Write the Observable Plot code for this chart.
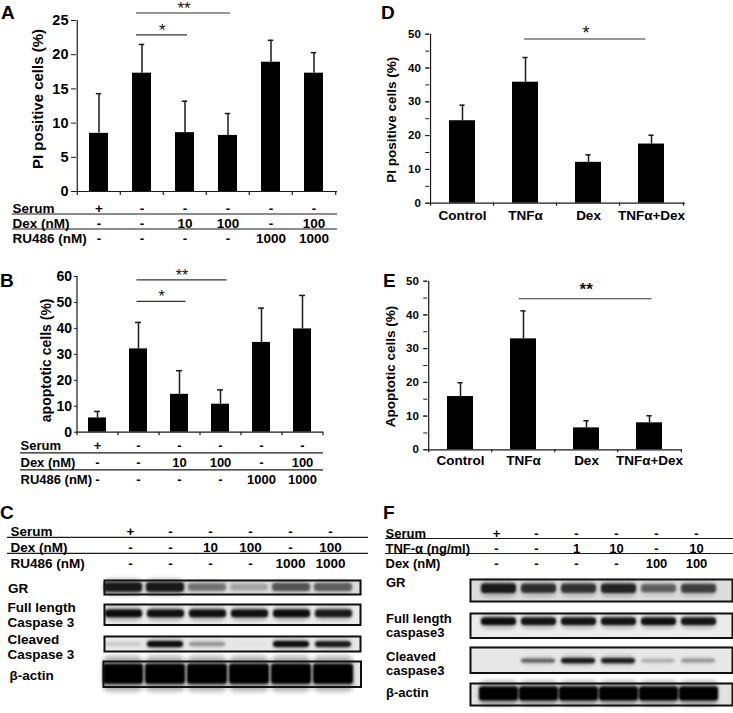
<!DOCTYPE html>
<html><head><meta charset="utf-8">
<script src="https://cdn.jsdelivr.net/npm/d3@7"></script>
<script src="https://cdn.jsdelivr.net/npm/@observablehq/plot@0.6"></script>
<style>
body{margin:0;background:#fff}
#fig{position:relative;width:733px;height:713px;overflow:hidden;background:#fff;font-family:"Liberation Sans",Arial,Helvetica,sans-serif}
#fig > *{position:absolute}
.letter{font-size:19px;line-height:19px;font-weight:bold;color:#000}
</style></head>
<body><div id="fig"></div>
<script>
// ---------------- DATA ----------------
const lanes = ["1","2","3","4","5","6"];
// condition table for panels A, B, C
const rowNamesABC = ["Serum", "Dex (nM)", "RU486 (nM)"];
const serumABC = ["+", "-", "-", "-", "-", "-"];
const dexABC = ["-", "-", "10", "100", "-", "100"];
const ru486ABC = ["-", "-", "-", "-", "1000", "1000"];
// condition table for panel F
const rowNamesF = ["Serum", "TNF-α (ng/ml)", "Dex (nM)"];
const serumF = ["+", "-", "-", "-", "-", "-"];
const tnfF = ["-", "-", "1", "10", "-", "10"];
const dexF = ["-", "-", "-", "-", "100", "100"];

// Panel A: PI positive cells (%)
const piA = [8.5, 17.3, 8.6, 8.2, 18.9, 17.3];
const piAErr = [5.8, 4.2, 4.6, 3.2, 3.2, 3.0];
const ticksA = [0, 5, 10, 15, 20, 25];
const sigA = [{from: "2", to: "3", label: "*", y: 22.9}, {from: "2", to: "4", label: "**", y: 26.1}];

// Panel B: apoptotic cells (%)
const apoB = [5.5, 32.1, 14.6, 10.8, 34.6, 39.8];
const apoBErr = [2.5, 10.2, 9.1, 5.5, 13.2, 12.9];
const ticksB = [0, 10, 20, 30, 40, 50, 60];
const sigB = [{from: "2", to: "3", label: "*", y: 50.4}, {from: "2", to: "4", label: "**", y: 58.7}];

// Panels D, E
const groupsDE = ["Control", "TNFα", "Dex", "TNFα+Dex"];
const piD = [24.4, 35.8, 12.1, 17.5];
const piDErr = [4.6, 7.3, 2.2, 2.6];
const sigD = [{from: "TNFα", to: "TNFα+Dex", label: "*", y: 48.6}];
const apoE = [15.8, 32.9, 6.5, 8.0];
const apoEErr = [4.1, 8.3, 2.1, 2.1];
const sigE = [{from: "TNFα", to: "TNFα+Dex", label: "**", y: 44.8}];
const ticksDE = [0, 10, 20, 30, 40, 50];
const minorTicksDE = [0, 5, 10, 15, 20, 25, 30, 35, 40, 45, 50];

// Western blots: band intensity per lane (0 = none, 1 = saturated)
const blotLabelsC = ["GR", "Full length\nCaspase 3", "Cleaved\nCaspase 3", "β-actin"];
const grC = [0.85, 0.85, 0.42, 0.2, 0.55, 0.5];
const fullC = [0.92, 0.9, 0.9, 0.9, 0.92, 0.85];
const cleavedC = [0.1, 0.92, 0.3, 0.02, 0.92, 0.85];
const actinC = [1, 1, 1, 1, 1, 1];
const blotLabelsF = ["GR", "Full length\ncaspase3", "Cleaved\ncaspase3", "β-actin"];
const grF = [0.85, 0.75, 0.72, 0.8, 0.5, 0.65];
const fullF = [0.92, 0.88, 0.88, 0.88, 0.9, 0.88];
const cleavedF = [0, 0.5, 0.85, 0.82, 0.2, 0.3];
const actinF = [1, 1, 1, 1, 1, 1];

const panelLetters = ["A", "B", "C", "D", "E", "F"];

// ---------------- RENDERING ----------------
const fig = document.getElementById("fig");
const FONT = "'Liberation Sans', Arial, Helvetica, sans-serif";
const baseStyle = {fontFamily: FONT, fontWeight: "bold", background: "transparent", overflow: "visible", color: "#000"};
const ink = "#1a1a1a";
function place(el, left, top) { el.style.position = "absolute"; el.style.left = left + "px"; el.style.top = top + "px"; fig.appendChild(el); return el; }

function barChart(o) {
  const n = o.cats.length;
  const step = (o.width - o.marginRight - o.marginLeft) / n;
  const bw = step * (1 - o.pad);
  const yMax = o.ticks[o.ticks.length - 1];
  const rows = o.cats.map((c, i) => ({cat: c, mean: o.means[i], top: o.means[i] + o.errs[i]}));
  const idx = c => o.cats.indexOf(c);
  const marks = [
    Plot.barY(rows, {x: "cat", y: "mean", fill: "#000"}),
    Plot.ruleX(rows, {x: "cat", y1: "mean", y2: "top", stroke: ink, strokeWidth: 1.5}),
    Plot.tickY(rows, {x: "cat", y: "top", stroke: ink, strokeWidth: 1.5, insetLeft: (bw - o.cap) / 2, insetRight: (bw - o.cap) / 2}),
    Plot.ruleY([0], {stroke: ink, strokeWidth: 1.2}),
    Plot.ruleX([o.cats[0]], {x: d => d, dx: -step / 2, y1: yMax, y2: 0, insetBottom: -o.xTick, stroke: ink, strokeWidth: 1.2}),
    Plot.ruleX(o.cats.slice(1), {x: d => d, dx: -step / 2, y1: 0, y2: 0, insetBottom: -o.xTick, stroke: ink, strokeWidth: 1.2}),
    Plot.ruleX([o.cats[n - 1]], {x: d => d, dx: step / 2, y1: 0, y2: 0, insetBottom: -o.xTick, stroke: ink, strokeWidth: 1.2}),
  ];
  if (o.minorTicks) marks.push(Plot.axisY(o.minorTicks, {tickSize: o.tickSize, tickFormat: () => "", label: null, stroke: ink}));
  marks.push(Plot.axisY(o.ticks, {tickSize: o.tickSize, tickPadding: o.tickPadding, fontSize: o.tickFont, fontWeight: "bold", label: null, stroke: ink, fill: "#000"}));
  marks.push(Plot.text([o.yLabel], {frameAnchor: "left", textAnchor: "middle", lineAnchor: "middle", rotate: -90, dx: o.labelDx, dy: o.labelDy, fontSize: o.labelFont, fontWeight: "bold", fill: "#000"}));
  if (o.xLabels) marks.push(Plot.axisX({tickSize: 0, tickPadding: o.xPad, fontSize: o.xFont, fontWeight: "bold", label: null, fill: "#000"}));
  for (const s of o.sig) {
    const j = idx(s.to) - idx(s.from);
    marks.push(Plot.ruleY([s], {x1: "from", x2: "to", y: "y", insetLeft: o.sigInset[0], insetRight: o.sigInset[1], stroke: "#333", strokeWidth: 1.1}));
    marks.push(Plot.text([s], {x: "from", y: "y", text: "label", dx: step * j / 2 + (o.sigInset[0] - o.sigInset[1]) / 2, dy: o.starDy, lineAnchor: "bottom", fontSize: o.starFont, fontWeight: o.starWeight, fill: "#111"}));
  }
  const svg = Plot.plot({
    width: o.width, height: o.height,
    marginLeft: o.marginLeft, marginRight: o.marginRight, marginTop: o.marginTop, marginBottom: o.marginBottom,
    style: baseStyle,
    x: {type: "band", domain: o.cats, paddingInner: o.pad, paddingOuter: o.pad / 2, ...(o.xLabels ? {} : {axis: null})},
    y: {domain: [0, yMax]},
    marks
  });
  return place(svg, o.left, o.top);
}

function conditionTable(o) {
  const cells = [];
  o.rows.forEach((r, k) => r.forEach((v, i) => cells.push({row: o.rowNames[k], lane: lanes[i], v})));
  const svg = Plot.plot({
    width: o.width, height: o.height, marginLeft: o.ruleLeft, marginRight: o.width - o.ruleRight, marginTop: 0, marginBottom: 0,
    style: baseStyle,
    x: {type: "band", domain: lanes, range: o.xr, paddingInner: o.pad, paddingOuter: o.pad / 2, axis: null},
    y: {type: "point", domain: o.rowNames, range: o.yr, padding: 0, axis: null},
    marks: [
      Plot.ruleY(o.rowNames.slice(0, -1), {y: d => d, dy: o.ruleDy, stroke: ink, strokeWidth: 1.2}),
      Plot.text(o.rowNames, {y: d => d, text: d => d, frameAnchor: "left", textAnchor: "start", dx: o.labelX - o.ruleLeft, fontSize: o.font, fontWeight: "bold", fill: "#000"}),
      Plot.text(cells, {x: "lane", y: "row", text: "v", fontSize: o.font, fontWeight: "bold", fill: "#000"})
    ]
  });
  return place(svg, o.left, o.top);
}

let blurCount = 0;
function blotStrip(o) {
  const rows = lanes.map((l, i) => ({lane: l, a: o.bands[i]}));
  const c = o.center, t = o.thick;
  const svg = Plot.plot({
    width: o.w, height: o.h, margin: 0, style: baseStyle,
    x: {type: "band", domain: lanes, range: o.xr, paddingInner: o.pad, paddingOuter: o.pad / 2, axis: null},
    y: {domain: [0, 1], range: [o.h, 0], axis: null},
    opacity: {type: "identity"},
    marks: [
      Plot.frame({fill: o.bg, stroke: "none"}),
      Plot.barY(rows, {x: "lane", y1: d => c - t * 0.9 * (0.5 + 0.5 * d.a), y2: d => c + t * 0.9 * (0.5 + 0.5 * d.a), fill: "#222", fillOpacity: d => 0.35 * d.a, rx: 6}),
      Plot.barY(rows, {x: "lane", y1: d => c - t / 2 * (0.6 + 0.4 * d.a), y2: d => c + t / 2 * (0.6 + 0.4 * d.a), fill: "#000", fillOpacity: d => d.a, rx: 3}),
      Plot.frame({stroke: "#111", strokeWidth: 2, inset: 1}),
      Plot.text([o.label], {frameAnchor: "left", textAnchor: "start", lineAnchor: "middle", dx: o.labelX - o.left, dy: o.labelDy, fontSize: o.font, lineHeight: o.lh, fontWeight: "bold", fill: "#000"})
    ]
  });
  const s = d3.select(svg);
  const defs = s.insert("defs", ":first-child");
  const ids = [o.blur1, o.blur2].map(sd => {
    const id = "blur" + (blurCount++);
    defs.append("filter").attr("id", id).attr("x", "-30%").attr("y", "-100%").attr("width", "160%").attr("height", "300%")
      .append("feGaussianBlur").attr("stdDeviation", sd);
    return id;
  });
  s.selectAll("g[aria-label='bar']").each(function (d, i) { this.setAttribute("filter", `url(#${ids[Math.min(i, 1)]})`); });
  return place(svg, o.left, o.top);
}

// ---- Panel A ----
barChart({left: 0, top: 0, width: 345, height: 200, marginLeft: 76, marginRight: 8, marginTop: 20, marginBottom: 9,
  cats: lanes, means: piA, errs: piAErr, ticks: ticksA, pad: 0.55, cap: 6, xTick: 4,
  tickSize: 5, tickPadding: 3, tickFont: 14.5, yLabel: "PI positive cells (%)", labelFont: 15, labelDx: -38, labelDy: -7,
  sig: sigA, sigInset: [4, 7], starDy: 1.5, starFont: 17, starWeight: "normal"});
conditionTable({left: 0, top: 195, width: 345, height: 56, ruleLeft: 12, ruleRight: 337, labelX: 12,
  xr: [76, 337], pad: 0.55, yr: [12, 43.5], ruleDy: 5.5, font: 13.5,
  rowNames: rowNamesABC, rows: [serumABC, dexABC, ru486ABC]});

// ---- Panel B ----
barChart({left: 0, top: 250, width: 330, height: 190, marginLeft: 77, marginRight: 7, marginTop: 26, marginBottom: 8.3,
  cats: lanes, means: apoB, errs: apoBErr, ticks: ticksB, pad: 0.56, cap: 6, xTick: 3.5,
  tickSize: 3, tickPadding: 2.5, tickFont: 14, yLabel: "apoptotic cells (%)", labelFont: 14, labelDx: -31, labelDy: 6,
  sig: sigB, sigInset: [7.5, 2.5], starDy: 1, starFont: 16, starWeight: "normal"});
conditionTable({left: 0, top: 432, width: 330, height: 60, ruleLeft: 20, ruleRight: 323, labelX: 20,
  xr: [77, 323], pad: 0.56, yr: [13, 47], ruleDy: 7.3, font: 13,
  rowNames: rowNamesABC, rows: [serumABC, dexABC, ru486ABC]});

// ---- Panel D ----
barChart({left: 370, top: 0, width: 350, height: 232, marginLeft: 59.3, marginRight: 35, marginTop: 33.7, marginBottom: 29.3,
  cats: groupsDE, means: piD, errs: piDErr, ticks: ticksDE, minorTicks: minorTicksDE, pad: 0.58, cap: 6, xTick: 3,
  tickSize: 4, tickPadding: 5, tickFont: 11.5, yLabel: "PI positive cells (%)", labelFont: 13.5, labelDx: -38.6, labelDy: 1,
  xLabels: true, xPad: 7, xFont: 13.5,
  sig: sigD, sigInset: [12, 18.7], starDy: 0, starFont: 18, starWeight: "normal"});

// ---- Panel E ----
barChart({left: 370, top: 250, width: 350, height: 230, marginLeft: 57.3, marginRight: 38.3, marginTop: 30.7, marginBottom: 30.7,
  cats: groupsDE, means: apoE, errs: apoEErr, ticks: ticksDE, minorTicks: minorTicksDE, pad: 0.58, cap: 6, xTick: 3,
  tickSize: 4, tickPadding: 5, tickFont: 11.5, yLabel: "Apoptotic cells (%)", labelFont: 13.5, labelDx: -37.3, labelDy: 1,
  xLabels: true, xPad: 6, xFont: 13.5,
  sig: sigE, sigInset: [8.7, 10.6], starDy: -4, starFont: 17, starWeight: "bold"});

// ---- Panel C ----
conditionTable({left: 0, top: 515, width: 370, height: 62, ruleLeft: 7, ruleRight: 368, labelX: 10,
  xr: [107, 352], pad: 0, yr: [16, 48.5], ruleDy: 5.8, font: 13.5,
  rowNames: rowNamesABC, rows: [serumABC, dexABC, ru486ABC]});
const stripsC = [
  {bands: grC, top: 578.5, h: 16, left: 103, w: 258, bg: "#dcdcdc", center: 0.5, thick: 0.62, pad: 0.1, labelX: 7.5, labelDy: 1},
  {bands: fullC, top: 603, h: 22.5, left: 103, w: 258, bg: "#ececec", center: 0.54, thick: 0.36, pad: 0.12, labelX: 7, labelDy: 0},
  {bands: cleavedC, top: 635, h: 17, left: 103, w: 258, bg: "#e8e8e8", center: 0.47, thick: 0.36, pad: 0.14, labelX: 7, labelDy: 3},
  {bands: actinC, top: 660, h: 27.5, left: 101.5, w: 259.5, bg: "#e4e4e4", center: 0.5, thick: 0.72, pad: 0.04, labelX: 8.5, labelDy: 1}
];
stripsC.forEach((s, k) => blotStrip({...s, label: blotLabelsC[k], xr: [102 - s.left, 354 - s.left], font: 13.5, lh: 1.12, blur1: 2, blur2: 1}));

// ---- Panel F ----
conditionTable({left: 370, top: 515, width: 363, height: 62, ruleLeft: 15, ruleRight: 363, labelX: 15,
  xr: [106, 346], pad: 0, yr: [16.7, 48.3], ruleDy: 5, font: 13,
  rowNames: rowNamesF, rows: [serumF, tnfF, dexF]});
const stripsF = [
  {bands: grF, top: 578, h: 24, bg: "#dcdcdc", center: 0.57, thick: 0.42, pad: 0.12, labelDy: -7.7},
  {bands: fullF, top: 611.5, h: 26.5, bg: "#ebebeb", center: 0.65, thick: 0.3, pad: 0.12, labelDy: -0.3},
  {bands: cleavedF, top: 645.5, h: 27.5, bg: "#e8e8e8", center: 0.47, thick: 0.2, pad: 0.14, labelDy: 3.5},
  {bands: actinF, top: 681.5, h: 24, bg: "#e3e3e3", center: 0.52, thick: 0.58, pad: 0.03, labelDy: -1.8}
];
stripsF.forEach((s, k) => blotStrip({...s, left: 468.5, w: 264, label: blotLabelsF[k], labelX: 385, xr: [9.5, 249.5], font: 13, lh: 1.1, blur1: 2, blur2: 1}));

// ---- panel letters ----
const letterPos = [[1, 2.5], [0, 271], [0, 502.5], [381, 2.5], [383, 271], [383, 502.5]];
panelLetters.forEach((L, i) => {
  const d = document.createElement("div");
  d.className = "letter";
  d.textContent = L;
  place(d, letterPos[i][0], letterPos[i][1]);
});
</script>
</body></html>
